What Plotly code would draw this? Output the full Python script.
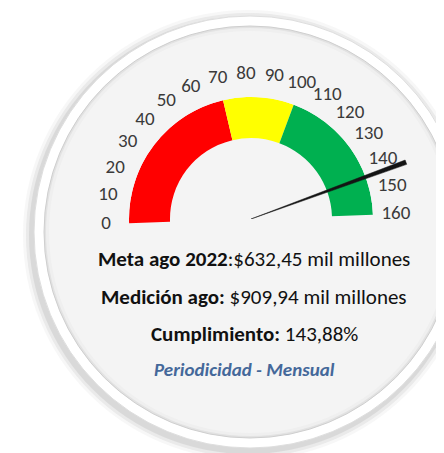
import math
import plotly.graph_objects as go

# ---------------- data ----------------
tick_values = list(range(0, 161, 10))
tick_labels = [str(v) for v in tick_values]
band_start = [0, 70, 100]
band_end = [70, 100, 160]
band_colors = ["#FF0000", "#FFFF00", "#00B050"]
gauge_max = 160
meta_label = "Meta ago 2022"
meta_value = "$632,45 mil millones"
medicion_label = "Medición ago:"
medicion_value = "$909,94 mil millones"
cumplimiento_label = "Cumplimiento:"
cumplimiento = 143.88
periodicidad_text = "Periodicidad - Mensual"

# ---------------- geometry / style ----------------
W, H = 444, 453
OFF = 8                    # page body margin offset
CX, CY = 251, 219          # gauge centre (px, page coords)
R = 122                    # outer radius of coloured band (px)
INNER = 81 / 122           # inner radius fraction
TILT = 2.0                 # degrees
SPAN = 180.0
NEEDLE_LEN = 165 / 122
LABEL_R = 145 / 122
R2F = 1.4                  # outer subplot radius factor
FONT = "Carlito, Lato, 'Open Sans', sans-serif"


def to_theta(v):
    return v / gauge_max * SPAN


def px_x(x):
    return (x - OFF) / W


def px_y(y):
    return 1 - (y - OFF) / H


S0, S1 = TILT - 0.5, 180 + TILT + 0.5
xmin = -1.0
xmax = math.cos(math.radians(S0))
ymin = math.sin(math.radians(S1))


def domain(rad):
    return dict(x=[px_x(CX + xmin * rad), px_x(CX + xmax * rad)],
                y=[px_y(CY - ymin * rad), px_y(CY - rad)])


fig = go.Figure()

# coloured bands
fig.add_trace(go.Barpolar(
    theta=[to_theta((s + e) / 2) for s, e in zip(band_start, band_end)],
    width=[to_theta(e - s) for s, e in zip(band_start, band_end)],
    r=[1 - INNER] * len(band_start),
    base=[INNER] * len(band_start),
    marker=dict(color=band_colors, line=dict(width=0)),
    hoverinfo="skip", showlegend=False, subplot="polar",
))

# tick labels
fig.add_trace(go.Scatterpolar(
    r=[LABEL_R] * len(tick_values),
    theta=[to_theta(v) for v in tick_values],
    mode="text", text=tick_labels, textposition="middle center",
    textfont=dict(family=FONT, size=19, color="#3a3a3a"),
    hoverinfo="skip", showlegend=False, subplot="polar2", cliponaxis=False,
))

# needle (tapered wedge)
tn = to_theta(cumplimiento)
d = 0.8
fig.add_trace(go.Scatterpolar(
    r=[0, NEEDLE_LEN, NEEDLE_LEN, 0],
    theta=[tn, tn + d, tn - d, tn],
    mode="lines", fill="toself", fillcolor="#141414",
    line=dict(color="#141414", width=0.5),
    hoverinfo="skip", showlegend=False, subplot="polar2",
))

# ---------------- badge background ----------------
BCX, BCY = 250, 232
shapes = []


def circ(r, fill, line_color=None, lw=0, opacity=1.0, dx=0, dy=0):
    return dict(type="circle", xref="paper", yref="paper", layer="below",
                x0=px_x(BCX + dx - r), x1=px_x(BCX + dx + r),
                y0=px_y(BCY + dy + r), y1=px_y(BCY + dy - r),
                fillcolor=fill, opacity=opacity,
                line=dict(color=line_color or "rgba(0,0,0,0)", width=lw))


for i, r in enumerate([225, 222, 219]):
    shapes.append(circ(r, "#8a8a8a", opacity=0.07 + 0.05 * i, dx=-2, dy=3))
shapes.append(circ(216, "#ffffff", "#dedede", 1))
shapes.append(circ(206, "#e2e2e2", "#cfcfcf", 1))
shapes.append(circ(204, "#efefef"))
shapes.append(circ(201, "#f4f4f4"))

# ---------------- texts ----------------
TXT = "#111111"
annotations = [
    dict(x=px_x(254), y=px_y(259),
         text=f"<b>{meta_label}</b>:{meta_value}",
         font=dict(family=FONT, size=21, color=TXT)),
    dict(x=px_x(254), y=px_y(297),
         text=f"<b>{medicion_label}</b> {medicion_value}",
         font=dict(family=FONT, size=21, color=TXT)),
    dict(x=px_x(254), y=px_y(334),
         text=f"<b>{cumplimiento_label}</b> {cumplimiento:.2f}%".replace(".", ","),
         font=dict(family=FONT, size=21, color=TXT)),
    dict(x=px_x(244), y=px_y(369),
         text=f"<b><i>{periodicidad_text}</i></b>",
         font=dict(family=FONT, size=19, color="#44689A")),
]
for a in annotations:
    a.update(xref="paper", yref="paper", showarrow=False,
             xanchor="center", yanchor="middle")

common_ang = dict(rotation=180 + TILT, direction="clockwise", visible=False)

fig.update_layout(
    width=W, height=H,
    margin=dict(l=0, r=0, t=0, b=0),
    paper_bgcolor="#ffffff",
    plot_bgcolor="#ffffff",
    shapes=shapes,
    annotations=annotations,
    showlegend=False,
    polar=dict(
        domain=domain(R),
        sector=[S0, S1],
        bgcolor="rgba(0,0,0,0)",
        radialaxis=dict(range=[0, 1], visible=False),
        angularaxis=common_ang,
    ),
    polar2=dict(
        domain=domain(R * R2F),
        sector=[S0, S1],
        bgcolor="rgba(0,0,0,0)",
        radialaxis=dict(range=[0, R2F], visible=False),
        angularaxis=common_ang,
    ),
)

fig.write_html("out.html")
